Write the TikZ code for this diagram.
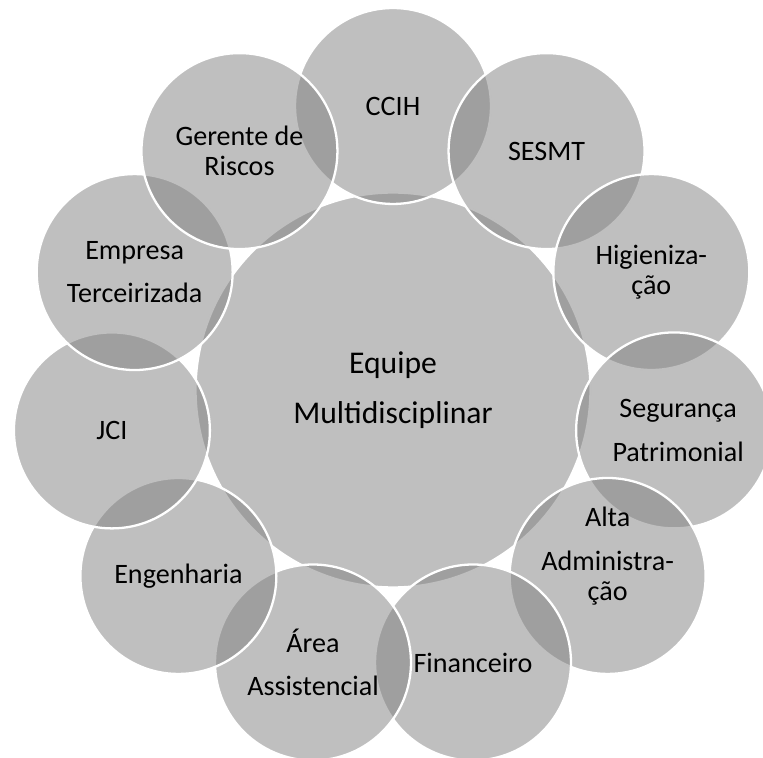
\documentclass[tikz,border=0pt]{standalone}
\usepackage{fontspec}
\setmainfont{Carlito}
\usepackage{tikz}

\tikzset{
  ring/.style={circle, draw=white, line width=1.3pt, fill=black!50,
    fill opacity=0.5, text opacity=1, inner sep=0pt, minimum size=3.92cm},
  hub/.style={ring, minimum size=7.9cm, align=center,
    font=\fontsize{18}{28.4}\selectfont},
  lbl/.style={align=center, text=black, font=\fontsize{16}{17}\selectfont}
}

\begin{document}
\begin{tikzpicture}[x=0.02cm, y=0.02cm]
\useasboundingbox (0,0) rectangle (763,757);

% Define the centre of the diagram
\coordinate (O) at (393,367);

% Draw the central circle
\node[hub] (hub) at (O) {Equipe\\Multidisciplinar};

% Draw the outer circles, clockwise from the top
\foreach \name [count=\i from 0] in {ccih, sesmt, hig, seg, alta, fin, area, eng, jci, emp, ger}
  \node[ring] (\name) at ([shift={(90-32.727*\i:284)}]O) {};

% Add labels
\node[lbl] (t-ccih) at (ccih) {CCIH};
\node[lbl] (t-sesmt) at (sesmt) {SESMT};
\node[lbl] (t-hig) at (hig) {Higieniza-\\ção};
\node[lbl] (t-seg) at ([xshift=0.08cm]seg) {Segurança\\[7.8pt]Patrimonial};
\node[lbl] (t-alta) at ([yshift=0.4cm]alta) {Alta\\[7.8pt]Administra-\\ção};
\node[lbl] (t-fin) at (fin) {Financeiro};
\node[lbl] (t-area) at (area) {Área\\[7.8pt]Assistencial};
\node[lbl] (t-eng) at (eng) {Engenharia};
\node[lbl] (t-jci) at (jci) {JCI};
\node[lbl] (t-emp) at (emp) {Empresa\\[7.8pt]Terceirizada};
\node[lbl] (t-ger) at (ger) {Gerente de\\Riscos};

\end{tikzpicture}
\end{document}
